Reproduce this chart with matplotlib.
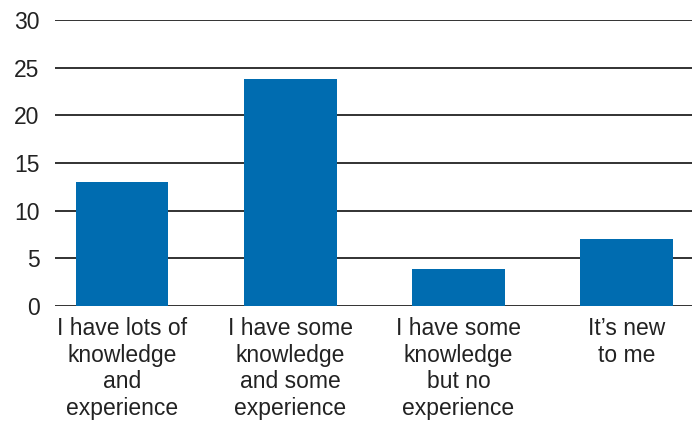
import matplotlib
matplotlib.use("Agg")
import matplotlib.pyplot as plt
import numpy as np

plt.rcParams["font.family"] = ["Liberation Sans", "DejaVu Sans"]

categories = [
    "I have lots of\nknowledge\nand\nexperience",
    "I have some\nknowledge\nand some\nexperience",
    "I have some\nknowledge\nbut no\nexperience",
    "It\u2019s new\nto me",
]
values = [13, 23.8, 3.9, 7]
yticks = [0, 5, 10, 15, 20, 25, 30]

BLUE = "#006cb0"

fig = plt.figure(figsize=(6.92, 4.23), dpi=100)
ax = fig.add_axes([55 / 692, 1 - 306 / 423, 637 / 692, 286 / 423])

x = np.arange(len(categories))
ax.bar(x, values, width=0.55, color=BLUE, zorder=3)

ax.set_ylim(0, 30)
ax.set_xlim(-0.4, 3.39)
ax.set_yticks(yticks)
ax.yaxis.grid(True, color="#222222", linewidth=1.3, zorder=0)
ax.set_axisbelow(True)
for s in ax.spines.values():
    s.set_visible(False)
ax.tick_params(axis="both", length=0, labelsize=16.5, colors="#222222")
ax.tick_params(axis="y", pad=11)
ax.tick_params(axis="x", pad=8)
ax.set_xticks(x)
ax.set_xticklabels(categories, linespacing=1.2)

fig.savefig("out.png", dpi=100)
